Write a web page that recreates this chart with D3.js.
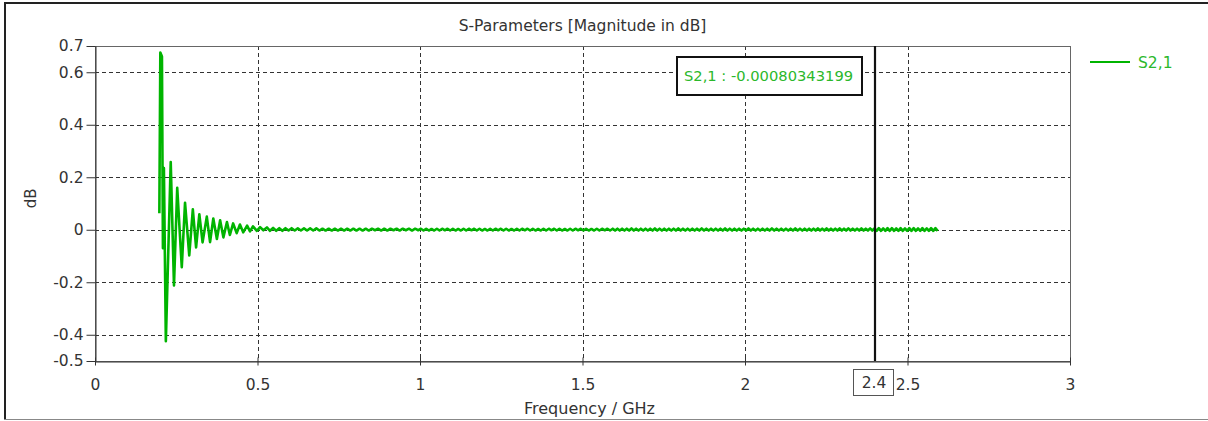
<!DOCTYPE html>
<html lang="en">
  <head>
    <meta charset="UTF-8" />
    <title>S-Parameters</title>
    <style>
      body {
        margin: 0;
        background: #fff;
      }
      svg text {
        font-family: "DejaVu Sans", Verdana, sans-serif;
      }
    </style>
  </head>
  <body>
    <svg width="1208" height="421" id="chart"></svg>

    <script src="https://d3js.org/d3.v7.min.js"></script>
    <script>
      // ringing part near 0.2 GHz, read peak by peak (GHz / dB)
      var ringFreq = [
        0.198, 0.201, 0.206, 0.209, 0.212, 0.218, 0.233, 0.243, 0.253, 0.267,
        0.277, 0.29, 0.301, 0.311, 0.321, 0.331, 0.344, 0.354, 0.364, 0.375,
        0.385, 0.395, 0.406, 0.415, 0.425, 0.436, 0.446, 0.456, 0.468, 0.477,
        0.486, 0.498, 0.508, 0.518, 0.529
      ];
      var ringDb = [
        0.063, 0.675, 0.66, -0.07, 0.235, -0.425, 0.258, -0.212, 0.16, -0.143,
        0.103, -0.098, 0.078, -0.067, 0.059, -0.048, 0.05, -0.047, 0.043, -0.035,
        0.036, -0.029, 0.029, -0.02, 0.024, -0.013, 0.02, -0.01, 0.016, -0.006,
        0.013, -0.004, 0.01, -0.002, 0.009
      ];

      // small ripple after the ringing, extremes in milli-dB, one list per stretch
      var tailStep = [0.0095, 0.0082, 0.0072, 0.0067];
      var tail1 = [
        -4, 7, -4, 6, -4, 6, -3, 6, -3, 5, -3, 5, -3, 5, -3, 5, -3, 4, -3, 4,
        -3, 4, -3, 4, -3, 4, -3, 4, -3, 4, -3, 4, -3, 4, -2, 4, -3, 4, -3, 4,
        -2, 4, -3, 4, -2, 4, -3, 4, -2
      ];
      var tail2 = [
        4, -3, 4, -3, 3, -3, 4, -3, 4, -2, 4, -3, 4, -3, 3, -3, 4, -3, 4, -2,
        4, -3, 4, -3, 3, -3, 4, -3, 4, -2, 4, -3, 4, -3, 3, -3, 4, -3, 4, -2,
        4, -3, 4, -3, 3, -3, 4, -3, 4, -2, 4, -3, 4, -3, 3, -3, 4, -3, 4, -2,
        4, -3, 4, -3, 3, -3, 4, -3, 4, -2, 4, -3, 4
      ];
      var tail3 = [
        -3, 4, -3, 4, -3, 4, -3, 5, -3, 4, -3, 4, -3, 4, -3, 4, -3, 5, -3, 4,
        -3, 4, -3, 4, -3, 4, -3, 5, -3, 4, -3, 4, -3, 4, -3, 4, -3, 5, -3, 4,
        -3, 4, -3, 4, -3, 4, -3, 5, -3, 4, -3, 4, -3, 4, -3, 4, -3, 5, -3, 4,
        -3, 4, -3, 4, -3, 4, -3, 5, -3, 4, -3, 4, -3, 4, -3, 4, -3, 5, -3, 4,
        -3, 4, -3
      ];
      var tail4 = [
        4, -3, 4, -3, 5, -3, 4, -3, 5, -3, 4, -3, 4, -3, 5, -3, 4, -3, 5, -3,
        4, -3, 4, -3, 5, -3, 4, -3, 5, -3, 5, -4, 6, -4, 5, -4, 6, -4, 6, -4,
        5, -4, 6, -4, 5, -4, 6, -4, 6, -4, 5, -4, 6, -4, 5, -4, 6, -4, 6, -4
      ];

      var xTicks = [0, 0.5, 1, 1.5, 2, 2.5, 3];
      var yTicks = [0.7, 0.6, 0.4, 0.2, 0, -0.2, -0.4, -0.5];
      var xGrid = [0.5, 1, 1.5, 2, 2.5];
      var yGrid = [0.6, 0.4, 0.2, 0, -0.2, -0.4];
      var markerFreq = 2.4;
      var markerText = "S2,1 : -0.00080343199";
      var seriesName = "S2,1";

      var green = "#00b400";
      var textGreen = "#2bb82b";
      var ink = "#333";

      // build the points
      var points = ringFreq.map(function (f, i) {
        return { f: f, v: ringDb[i] };
      });
      var f = ringFreq[ringFreq.length - 1];
      [tail1, tail2, tail3, tail4].forEach(function (seg, s) {
        seg.forEach(function (m) {
          f += tailStep[s];
          points.push({ f: f, v: m / 1000 });
        });
      });

      var pLeft = 95, pRight = 1070, pTop = 46, pBottom = 361;
      var x = d3.scaleLinear().domain([0, 3]).range([pLeft, pRight]);
      var y = d3.scaleLinear().domain([-0.5, 0.7]).range([pBottom, pTop]);

      var svg = d3.select("#chart");

      // outer frame
      svg.append("line").attr("x1", 4).attr("x2", 1208).attr("y1", 3).attr("y2", 3)
        .attr("stroke", "#222").attr("stroke-width", 2);
      svg.append("line").attr("x1", 5).attr("x2", 5).attr("y1", 2).attr("y2", 420)
        .attr("stroke", "#222").attr("stroke-width", 2);
      svg.append("line").attr("x1", 4).attr("x2", 1208).attr("y1", 419.5).attr("y2", 419.5)
        .attr("stroke", "#888").attr("stroke-width", 1);

      // title
      svg.append("text")
        .attr("x", (pLeft + pRight) / 2)
        .attr("y", 31)
        .attr("text-anchor", "middle")
        .attr("font-size", 15.5)
        .attr("fill", ink)
        .text("S-Parameters [Magnitude in dB]");

      // grid
      svg.append("g").selectAll("line").data(yGrid).join("line")
        .attr("x1", pLeft).attr("x2", pRight)
        .attr("y1", function (d) { return Math.round(y(d)) + 0.5; })
        .attr("y2", function (d) { return Math.round(y(d)) + 0.5; })
        .attr("stroke", "#333").attr("stroke-dasharray", "4,3");
      svg.append("g").selectAll("line").data(xGrid).join("line")
        .attr("x1", function (d) { return Math.round(x(d)) + 0.5; })
        .attr("x2", function (d) { return Math.round(x(d)) + 0.5; })
        .attr("y1", pTop).attr("y2", pBottom)
        .attr("stroke", "#333").attr("stroke-dasharray", "4,3");

      // plot box
      svg.append("rect")
        .attr("x", pLeft + 0.5).attr("y", pTop + 0.5)
        .attr("width", pRight - pLeft).attr("height", pBottom - pTop)
        .attr("fill", "none").attr("stroke", "#666");

      // axes
      var yAxis = svg.append("g")
        .attr("transform", "translate(" + (pLeft + 0.5) + ",0)")
        .call(d3.axisLeft(y).tickValues(yTicks).tickSizeInner(9).tickSizeOuter(0)
          .tickPadding(3).tickFormat(function (d) { return String(d); }));
      yAxis.select(".domain").attr("stroke", ink);
      yAxis.selectAll(".tick line").attr("stroke", ink);
      yAxis.selectAll("text").attr("font-size", 15.5).attr("fill", ink)
        .style("font-family", '"DejaVu Sans", sans-serif');

      var xAxis = svg.append("g")
        .attr("transform", "translate(0," + (pBottom + 0.5) + ")")
        .call(d3.axisBottom(x).tickValues(xTicks).tickSizeInner(4).tickSizeOuter(0)
          .tickPadding(13).tickFormat(function (d) { return String(d); }));
      xAxis.select(".domain").attr("stroke", ink);
      xAxis.selectAll(".tick line").attr("stroke", ink).attr("y1", -4);
      xAxis.selectAll("text").attr("font-size", 15.5).attr("fill", ink)
        .style("font-family", '"DejaVu Sans", sans-serif');

      svg.append("text")
        .attr("x", (pLeft + pRight) / 2 + 7)
        .attr("y", 414)
        .attr("text-anchor", "middle")
        .attr("font-size", 16)
        .attr("fill", ink)
        .text("Frequency / GHz");
      svg.append("text")
        .attr("transform", "translate(36," + y(0.12) + ") rotate(-90)")
        .attr("text-anchor", "middle")
        .attr("font-size", 15)
        .attr("fill", ink)
        .text("dB");

      // curve
      svg.append("path")
        .datum(points)
        .attr("fill", "none")
        .attr("stroke", green)
        .attr("stroke-width", 2.6)
        .attr("stroke-linejoin", "round")
        .attr("d", d3.line()
          .x(function (d) { return x(d.f); })
          .y(function (d) { return y(d.v); }));

      // marker line and labels
      var mx = x(markerFreq);
      svg.append("line")
        .attr("x1", mx).attr("x2", mx).attr("y1", pTop).attr("y2", pBottom)
        .attr("stroke", "#111").attr("stroke-width", 2.2);
      svg.append("rect")
        .attr("x", mx - 21.5).attr("y", 369.5).attr("width", 40).attr("height", 26)
        .attr("fill", "#fff").attr("stroke", "#555");
      svg.append("text")
        .attr("x", mx - 1).attr("y", 388)
        .attr("text-anchor", "middle").attr("font-size", 15.5).attr("fill", ink)
        .text(String(markerFreq));

      svg.append("rect")
        .attr("x", 677).attr("y", 57).attr("width", 185).attr("height", 38)
        .attr("fill", "#fff").attr("stroke", "#111").attr("stroke-width", 2);
      svg.append("text")
        .attr("x", 684).attr("y", 81)
        .attr("font-size", 14.7).attr("fill", textGreen)
        .text(markerText);

      // legend
      svg.append("line")
        .attr("x1", 1090).attr("x2", 1130).attr("y1", 62).attr("y2", 62)
        .attr("stroke", green).attr("stroke-width", 2);
      svg.append("text")
        .attr("x", 1138).attr("y", 68)
        .attr("font-size", 15.5).attr("fill", textGreen)
        .text(seriesName);
    </script>
  </body>
</html>
